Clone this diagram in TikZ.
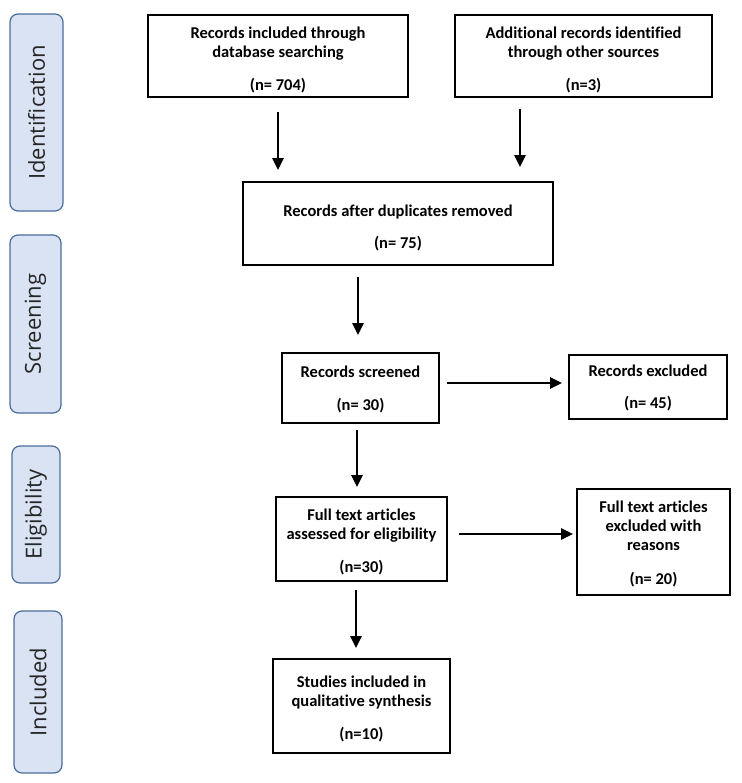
\documentclass[tikz,border=0pt]{standalone}
\usepackage{fontspec}
\setmainfont{Carlito}[RawFeature={-liga;-clig}]
\newfontfamily\labelfont{Open Sans}
\usetikzlibrary{arrows.meta}
\definecolor{labfill}{HTML}{DAE3F3}
\definecolor{labdraw}{HTML}{4A6C9B}
\tikzset{
  flowbox/.style={draw=black, line width=1.8pt, fill=white, inner sep=0pt},
  boxtext/.style={align=center, inner sep=0pt,
    font=\fontsize{16.5}{19}\selectfont\bfseries},
  phase/.style={draw=labdraw, line width=1.2pt, fill=labfill, rounded corners=8pt},
  phasetext/.style={font=\fontsize{22}{26}\selectfont\labelfont, text=black!85, rotate=90},
  arr/.style={line width=2.8pt, -{Triangle[length=12pt,width=11pt]}}
}
\begin{document}
\begin{tikzpicture}[x=1pt,y=-1pt]
\useasboundingbox (0,0) rectangle (741,783);
% phase labels
\node[phase, minimum width=53pt, minimum height=197pt] (pid) at (36.5,112.5) {};
\node[phasetext] (tid) at (pid.center) {Identification};
\node[phase, minimum width=51pt, minimum height=178pt] (psc) at (35.5,324) {};
\node[phasetext] (tsc) at (psc.center) {Screening};
\node[phase, minimum width=48pt, minimum height=137pt] (pel) at (36,514.5) {};
\node[phasetext] (tel) at (pel.center) {Eligibility};
\node[phase, minimum width=48pt, minimum height=162pt] (pin) at (38,692) {};
\node[phasetext] (tin) at (pin.center) {Included};
% boxes
\node[flowbox, minimum width=260pt, minimum height=82pt] (A) at (278,56) {};
\node[boxtext] (At) at ([yshift=-4pt]A.center)
  {Records included through\\database searching\\[14.5pt](n= 704)};
\node[flowbox, minimum width=257pt, minimum height=82pt] (B) at (583.5,56) {};
\node[boxtext] (Bt) at ([yshift=-4pt]B.center)
  {Additional records identified\\through other sources\\[14.5pt](n=3)};
\node[flowbox, minimum width=310pt, minimum height=83pt] (C) at (398,223.5) {};
\node[boxtext] (Ct) at ([yshift=-4pt]C.center)
  {Records after duplicates removed\\[13pt](n= 75)};
\node[flowbox, minimum width=157pt, minimum height=70pt] (D) at (360.5,388) {};
\node[boxtext] (Dt) at ([yshift=-1pt]D.center)
  {Records screened\\[14pt](n= 30)};
\node[flowbox, minimum width=158pt, minimum height=64pt] (E) at (648,387) {};
\node[boxtext] (Et) at ([yshift=-1pt]E.center)
  {Records excluded\\[13pt](n= 45)};
\node[flowbox, minimum width=171pt, minimum height=84pt] (F) at (361.5,539) {};
\node[boxtext] (Ft) at ([yshift=-3pt]F.center)
  {Full text articles\\assessed for eligibility\\[14.5pt](n=30)};
\node[flowbox, minimum width=153pt, minimum height=106pt] (G) at (653.5,542) {};
\node[boxtext] (Gt) at ([yshift=-2pt]G.center)
  {Full text articles\\excluded with\\reasons\\[14.5pt](n= 20)};
\node[flowbox, minimum width=177pt, minimum height=94pt] (H) at (361.5,706) {};
\node[boxtext] (Ht) at ([yshift=-3pt]H.center)
  {Studies included in\\qualitative synthesis\\[14.5pt](n=10)};
% arrows
\draw[arr] ([yshift=-14pt]A.south) -- ([yshift=11pt]A.south |- C.north);
\draw[arr] ([xshift=-63.5pt,yshift=-11pt]B.south) -- ([xshift=-63.5pt,yshift=14pt]B.south |- C.north);
\draw[arr] ([xshift=-40pt,yshift=-11pt]C.south) -- ([xshift=-40pt,yshift=17pt]C.south |- D.north);
\draw[arr] ([xshift=7pt,yshift=5pt]D.east) -- ([xshift=-6pt,yshift=5pt]D.east -| E.west);
\draw[arr] ([xshift=-3.5pt,yshift=-6pt]D.south) -- ([xshift=-3.5pt,yshift=9pt]D.south |- F.north);
\draw[arr] ([xshift=11pt,yshift=5pt]F.east) -- ([xshift=-3pt,yshift=5pt]F.east -| G.west);
\draw[arr] ([xshift=-5.5pt,yshift=-8pt]F.south) -- ([xshift=-5.5pt,yshift=10pt]F.south |- H.north);
\end{tikzpicture}
\end{document}
